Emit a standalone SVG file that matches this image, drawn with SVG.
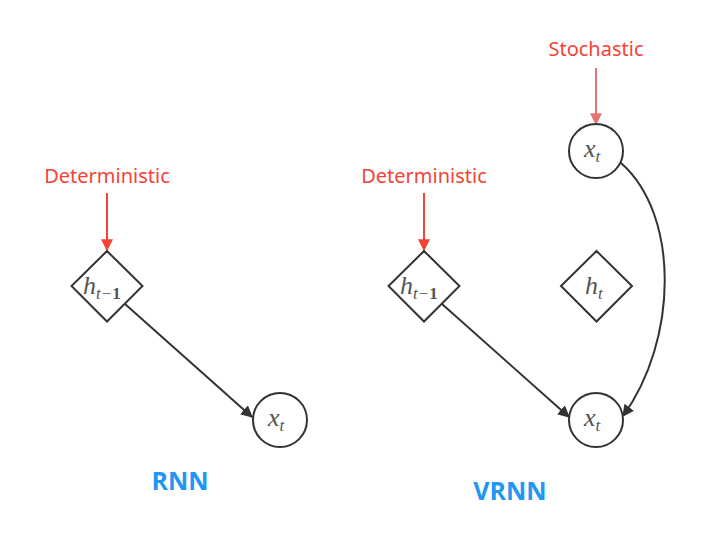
<svg xmlns="http://www.w3.org/2000/svg" width="715" height="535" viewBox="0 0 715 535">
<style>
.node{fill:#fff;stroke:#333;stroke-width:2}
.edge{fill:none;stroke:#333;stroke-width:2}
.red{fill:none;stroke:#f44336;stroke-width:2}
.pink{fill:none;stroke:#e57373;stroke-width:2}
.lbl{font-family:"Noto Sans","Liberation Sans",sans-serif;font-size:20px;fill:#f44336;text-anchor:middle}
.math{font-family:"Liberation Serif","DejaVu Serif",serif;font-style:italic;fill:#555;font-size:26px}
.sub{font-size:17px}
.title{font-family:"Open Sans","Liberation Sans",sans-serif;font-weight:bold;font-size:25px;fill:#2196f3;text-anchor:middle}
</style>
<defs>
<marker id="ab" viewBox="0 0 10 10" refX="9" refY="5" markerWidth="6" markerHeight="6" orient="auto" markerUnits="strokeWidth"><path d="M0,0 L10,5 L0,10 z" fill="#333"/></marker>
<marker id="ar" viewBox="0 0 10 10" refX="9" refY="5" markerWidth="6" markerHeight="6" orient="auto" markerUnits="strokeWidth"><path d="M0,0 L10,5 L0,10 z" fill="#f44336"/></marker>
<marker id="ap" viewBox="0 0 10 10" refX="9" refY="5" markerWidth="6" markerHeight="6" orient="auto" markerUnits="strokeWidth"><path d="M0,0 L10,5 L0,10 z" fill="#e57373"/></marker>
</defs>
<g id="connectors">
<line class="red" x1="107" y1="193" x2="107" y2="250" marker-end="url(#ar)"/>
<line class="red" x1="424" y1="193" x2="424" y2="250" marker-end="url(#ar)"/>
<line class="pink" x1="596" y1="68" x2="596" y2="124" marker-end="url(#ap)"/>
<line class="edge" x1="125" y1="304" x2="252" y2="417" marker-end="url(#ab)"/>
<line class="edge" x1="442" y1="304" x2="569" y2="417" marker-end="url(#ab)"/>
<path class="edge" d="M621,163 C680,215 678,340 623,416" marker-end="url(#ab)"/>
</g>
<g id="label-det-left"><text class="lbl" x="107" y="183">Deterministic</text></g>
<g id="label-det-right"><text class="lbl" x="424" y="183">Deterministic</text></g>
<g id="label-stoch"><text class="lbl" x="596" y="56">Stochastic</text></g>
<g id="node-h-left">
<polygon class="node" points="107,251 142.5,286 107,321.5 71.5,286"/>
<text class="math" x="83" y="294">h<tspan class="sub" dy="5">t−<tspan font-style="normal" font-weight="bold">1</tspan></tspan></text>
</g>
<g id="node-x-left">
<circle class="node" cx="280" cy="420" r="27"/>
<text class="math" x="268" y="426">x<tspan class="sub" dy="5">t</tspan></text>
</g>
<g id="node-h-right">
<polygon class="node" points="424,251 459.5,286 424,321.5 388.5,286"/>
<text class="math" x="400" y="294">h<tspan class="sub" dy="5">t−<tspan font-style="normal" font-weight="bold">1</tspan></tspan></text>
</g>
<g id="node-x-top">
<circle class="node" cx="596" cy="151" r="27"/>
<text class="math" x="584" y="157">x<tspan class="sub" dy="5">t</tspan></text>
</g>
<g id="node-h-t">
<polygon class="node" points="596.5,251 632,286 596.5,321.5 561,286"/>
<text class="math" x="585" y="294">h<tspan class="sub" dy="5">t</tspan></text>
</g>
<g id="node-x-bottom">
<circle class="node" cx="596" cy="420" r="27"/>
<text class="math" x="584" y="426">x<tspan class="sub" dy="5">t</tspan></text>
</g>
<g id="title-rnn"><text class="title" x="180" y="490">RNN</text></g>
<g id="title-vrnn"><text class="title" x="510" y="500">VRNN</text></g>
</svg>
